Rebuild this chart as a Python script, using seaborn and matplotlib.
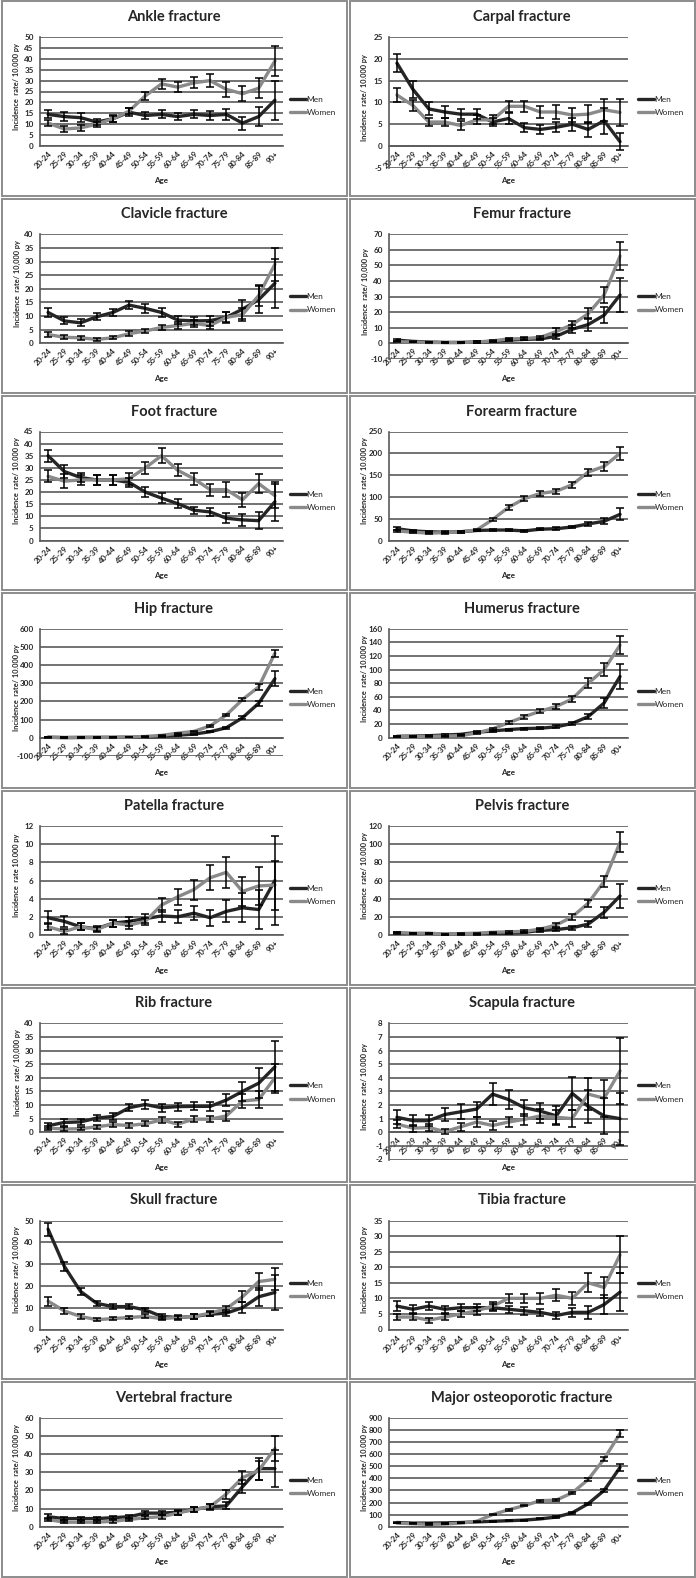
import numpy as np
import pandas as pd
import seaborn as sns
import matplotlib.pyplot as plt
from matplotlib.lines import Line2D
from matplotlib.patches import Rectangle

ages = ["20-24", "25-29", "30-34", "35-39", "40-44", "45-49", "50-54", "55-59",
        "60-64", "65-69", "70-74", "75-79", "80-84", "85-89", "90+"]

ankle_men = [14.5, 13.5, 13, 11, 12.5, 15.5, 14, 14.5, 13.5, 14.5, 14, 14.5, 10.5, 13.5, 21]
ankle_men_err = [1.8, 2, 2, 1.5, 1.5, 1.8, 1.8, 1.8, 1.8, 1.8, 2, 2.5, 3, 4.5, 9]
ankle_women = [10.5, 7.8, 8.3, 10, 12.5, 16, 23, 28.5, 27, 29, 30, 26, 24, 26.5, 39]
ankle_women_err = [1.3, 1.2, 1.2, 1.2, 1.3, 1.5, 2, 2.3, 2.3, 2.5, 3, 3.5, 3.5, 4.5, 7]

carpal_men = [19, 13, 8.5, 7.8, 7.3, 7.3, 5.5, 6.3, 4.2, 3.8, 4.3, 5, 3.8, 5.8, 1]
carpal_men_err = [2, 2, 1.5, 1.3, 1.2, 1.2, 1, 1.2, 1, 1, 1.2, 1.5, 1.8, 3, 2]
carpal_women = [11.7, 9.3, 5.5, 5.5, 4.7, 6, 6, 9.1, 9.1, 7.8, 7.8, 7.1, 7.3, 8.3, 7.7]
carpal_women_err = [1.5, 1.3, 1, 1, 1, 1, 1, 1.3, 1.2, 1.3, 1.5, 1.7, 2, 2.5, 3]

clavicle_men = [11.3, 8.2, 7.5, 9.7, 11.3, 14, 12.8, 11.3, 8.5, 8.2, 8.3, 9.5, 12.5, 16, 22]
clavicle_men_err = [1.5, 1.3, 1.3, 1.3, 1.3, 1.5, 1.6, 1.6, 1.5, 1.5, 1.8, 2, 3.5, 5, 9]
clavicle_women = [3.2, 2.2, 2, 1.4, 2, 3.5, 4.5, 5.8, 6.5, 7.3, 6.5, 9.5, 10.5, 17.5, 29]
clavicle_women_err = [0.8, 0.7, 0.7, 0.5, 0.6, 0.9, 0.8, 1, 1.2, 1.3, 1.3, 1.8, 2.5, 4, 6]

femur_men = [2, 1.2, 0.8, 0.5, 0.5, 0.8, 1.2, 2, 2.5, 2.8, 4.5, 9, 12, 18, 31]
femur_men_err = [0.6, 0.4, 0.3, 0.3, 0.3, 0.4, 0.5, 0.6, 0.7, 0.8, 1.5, 2.5, 4, 5, 11]
femur_women = [1, 0.8, 0.5, 0.5, 0.5, 0.8, 1.5, 2.8, 3, 3.8, 7.5, 12, 19, 31, 56]
femur_women_err = [0.4, 0.3, 0.3, 0.3, 0.3, 0.4, 0.5, 0.7, 0.8, 1, 2, 2, 3.5, 5, 9]

foot_men = [35, 28.5, 26, 25, 25, 24, 20, 17.5, 15.2, 12.5, 11.8, 9.2, 8.5, 8.2, 16]
foot_men_err = [2.5, 2.5, 2, 2, 2, 2, 2, 2, 1.8, 1.5, 1.5, 2, 2.5, 3.5, 8]
foot_women = [26.5, 24.5, 25, 25, 25, 25.5, 30, 35, 29, 25.5, 21, 21, 16.8, 23.5, 18.5]
foot_women_err = [2.5, 3, 2, 2, 2, 2.5, 2.5, 3, 2.5, 2.5, 2.5, 3, 3, 4, 5]

forearm_men = [27, 22, 20, 19, 20, 23, 24, 24, 22, 26, 27, 31, 38, 44, 60]
forearm_men_err = [3, 2, 2, 2, 2, 2, 2, 2, 2, 3, 3, 3, 5, 7, 14]
forearm_women = [22, 19, 17, 18, 20, 24, 48, 76, 96, 108, 113, 128, 157, 170, 200]
forearm_women_err = [2, 2, 2, 2, 2, 3, 4, 5, 5, 6, 6, 7, 8, 10, 15]

hip_men = [3, 1, 2, 2, 2, 3, 4, 8, 14, 20, 33, 55, 110, 190, 325]
hip_men_err = [1, 0.5, 0.8, 0.8, 0.8, 1, 1, 2, 2, 3, 4, 6, 8, 15, 40]
hip_women = [2, 1, 1, 2, 3, 4, 7, 13, 25, 35, 65, 125, 210, 280, 465]
hip_women_err = [1, 0.5, 0.5, 0.8, 1, 1, 2, 2, 3, 4, 5, 7, 8, 15, 20]

humerus_men = [2, 2.5, 3, 4, 5, 8, 10, 12, 13.5, 14, 16, 21, 31, 51, 90]
humerus_men_err = [0.8, 0.8, 0.8, 1, 1, 1.2, 1.5, 1.5, 1.5, 1.8, 2, 2.5, 4, 8, 18]
humerus_women = [2, 2, 2, 2.5, 3, 7, 13, 22, 31, 39, 46, 57, 80, 100, 136]
humerus_women_err = [0.8, 0.8, 0.8, 0.8, 1, 1.2, 1.5, 2, 3, 3, 4, 5, 7, 9, 13]

patella_men = [1.9, 1.5, 0.9, 0.7, 1.3, 1.5, 1.8, 2.1, 2.0, 2.4, 1.9, 2.6, 3.0, 2.8, 6.0]
patella_men_err = [0.7, 0.6, 0.4, 0.3, 0.4, 0.5, 0.5, 0.7, 0.7, 0.8, 0.9, 1.2, 1.6, 2.1, 4.9]
patella_women = [0.9, 0.4, 0.9, 0.6, 1.3, 1.1, 1.5, 3.3, 4.2, 5.0, 6.3, 6.9, 4.8, 5.4, 5.5]
patella_women_err = [0.4, 0.3, 0.4, 0.3, 0.4, 0.4, 0.4, 0.8, 0.9, 1.1, 1.4, 1.7, 1.6, 2.1, 2.7]

pelvis_men = [2, 1.5, 1.5, 1, 1, 1, 1.5, 2, 3, 5, 6, 8, 12, 25, 43]
pelvis_men_err = [0.8, 0.6, 0.6, 0.5, 0.5, 0.5, 0.6, 0.7, 0.8, 1.5, 1.5, 2, 3, 6, 13]
pelvis_women = [2.5, 2, 2, 1, 1.5, 2, 3, 3.5, 4, 6.5, 11, 20, 35, 59, 102]
pelvis_women_err = [0.8, 0.6, 0.6, 0.5, 0.5, 0.6, 0.7, 0.8, 1, 1.5, 2, 3, 4, 6, 11]

rib_men = [2.4, 3.6, 3.8, 5.2, 5.8, 9, 10.2, 9, 9.4, 9.5, 9.5, 11.8, 15, 18, 24]
rib_men_err = [1, 1.2, 1.2, 1.2, 1.2, 1.3, 1.6, 1.5, 1.5, 1.5, 1.7, 2.3, 3.5, 5.5, 9.5]
rib_women = [1.5, 1.2, 1.3, 2, 2.8, 2.5, 3.1, 4.5, 3, 4.8, 4.8, 6, 11.5, 12, 20]
rib_women_err = [0.7, 0.6, 0.6, 0.7, 0.8, 0.8, 0.9, 1, 0.9, 1.1, 1.2, 1.8, 2.5, 3, 5]

scapula_men = [1.1, 0.85, 0.85, 1.3, 1.5, 1.7, 2.8, 2.4, 1.8, 1.55, 1.2, 2.85, 1.9, 1.2, 1.0]
scapula_men_err = [0.5, 0.4, 0.4, 0.45, 0.55, 0.55, 0.8, 0.7, 0.6, 0.6, 0.7, 1.2, 1.2, 1.3, 1.9]
scapula_women = [0.6, 0.3, 0.35, 0.05, 0.4, 0.75, 0.5, 0.75, 0.95, 1.2, 1.1, 1.0, 2.8, 2.5, 4.5]
scapula_women_err = [0.3, 0.25, 0.25, 0.2, 0.3, 0.35, 0.3, 0.35, 0.4, 0.5, 0.5, 0.6, 1.2, 1.35, 2.4]

skull_men = [46, 29, 17.5, 12, 10.5, 10.5, 9, 6, 5.5, 6, 7, 7.5, 10, 15, 17]
skull_men_err = [3, 2, 1.5, 1.2, 1, 1, 1, 1, 1, 1, 1, 1.5, 2.5, 4, 8]
skull_women = [13, 8.5, 6, 4.5, 5, 5.5, 6, 5, 5.5, 6, 7.5, 9.5, 15, 22, 23]
skull_women_err = [2, 1.3, 1, 0.8, 0.8, 0.8, 0.9, 0.8, 0.9, 1, 1.2, 1.5, 2.5, 4, 5]

tibia_men = [7.5, 6.5, 7.5, 6.5, 7, 7, 7, 6.5, 6, 5.5, 4.5, 5.5, 5.5, 8, 12]
tibia_men_err = [1.5, 1.3, 1.3, 1.2, 1.2, 1.2, 1.2, 1.2, 1.2, 1.2, 1.2, 1.5, 2, 3, 6]
tibia_women = [4, 4, 3, 4, 5, 6, 7.5, 10, 10, 10, 11, 10, 15, 13.5, 24]
tibia_women_err = [1, 1, 0.8, 1, 1, 1.2, 1.3, 1.5, 1.5, 1.7, 2, 2, 3, 3.5, 6]

vertebral_men = [5.5, 4.5, 4.5, 4.5, 5, 5.5, 7.5, 7.5, 8, 9.5, 11, 11.5, 22, 32, 32]
vertebral_men_err = [1.5, 1, 1, 1, 1, 1, 1.2, 1.2, 1.3, 1.5, 1.5, 2, 3.5, 6, 10]
vertebral_women = [4, 2.5, 2.5, 2.5, 3, 4, 5, 5.5, 7.5, 9.5, 11, 18, 27, 31, 43]
vertebral_women_err = [1, 0.7, 0.7, 0.7, 0.8, 0.9, 1, 1, 1.2, 1.5, 1.7, 2.5, 3.5, 5, 7]

major_men = [35, 30, 30, 32, 35, 40, 45, 50, 55, 65, 80, 115, 190, 300, 490]
major_men_err = [3, 3, 3, 3, 3, 3, 3, 3, 4, 4, 5, 6, 10, 15, 30]
major_women = [30, 25, 20, 22, 30, 45, 100, 140, 175, 215, 220, 280, 390, 560, 770]
major_women_err = [3, 3, 3, 3, 3, 4, 5, 6, 7, 8, 9, 10, 12, 20, 30]

YL_DOT = "Incidence  rate/ 10.000 py"
YL_COMMA = "Incidence  rate/ 10,000 py"

# title, men, men err, women, women err, (ymin, ymax, step), ylabel
panels = [
    ("Ankle fracture", ankle_men, ankle_men_err, ankle_women, ankle_women_err, (0, 50, 5), YL_DOT),
    ("Carpal fracture", carpal_men, carpal_men_err, carpal_women, carpal_women_err, (-5, 25, 5), YL_DOT),
    ("Clavicle fracture", clavicle_men, clavicle_men_err, clavicle_women, clavicle_women_err, (0, 40, 5), YL_COMMA),
    ("Femur fracture", femur_men, femur_men_err, femur_women, femur_women_err, (-10, 70, 10), YL_COMMA),
    ("Foot fracture", foot_men, foot_men_err, foot_women, foot_women_err, (0, 45, 5), YL_DOT),
    ("Forearm fracture", forearm_men, forearm_men_err, forearm_women, forearm_women_err, (0, 250, 50), YL_DOT),
    ("Hip fracture", hip_men, hip_men_err, hip_women, hip_women_err, (-100, 600, 100), YL_DOT),
    ("Humerus fracture", humerus_men, humerus_men_err, humerus_women, humerus_women_err, (0, 160, 20), YL_DOT),
    ("Patella fracture", patella_men, patella_men_err, patella_women, patella_women_err, (0, 12, 2), "Incidence  rate 10.000 py"),
    ("Pelvis fracture", pelvis_men, pelvis_men_err, pelvis_women, pelvis_women_err, (0, 120, 20), YL_DOT),
    ("Rib fracture", rib_men, rib_men_err, rib_women, rib_women_err, (0, 40, 5), YL_COMMA),
    ("Scapula fracture", scapula_men, scapula_men_err, scapula_women, scapula_women_err, (-2, 8, 1), YL_DOT),
    ("Skull fracture", skull_men, skull_men_err, skull_women, skull_women_err, (0, 50, 10), YL_DOT),
    ("Tibia fracture", tibia_men, tibia_men_err, tibia_women, tibia_women_err, (0, 35, 5), YL_DOT),
    ("Vertebral fracture", vertebral_men, vertebral_men_err, vertebral_women, vertebral_women_err, (0, 60, 10), YL_DOT),
    ("Major osteoporotic fracture", major_men, major_men_err, major_women, major_women_err, (0, 900, 100), YL_DOT),
]

MEN_C = "#262626"
WOMEN_C = "#8a8a8a"
GRID_C = "#5a5a5a"
BORDER_C = "#8c8c8c"

sns.set_style("white")
plt.rcParams["font.family"] = ["Lato", "DejaVu Sans"]

W, H = 696, 1578
fig = plt.figure(figsize=(W / 100, H / 100), dpi=100)
PH = H / 8.0
x = np.arange(len(ages))

for i, (title, men, men_err, women, women_err, (ymin, ymax, step), ylab) in enumerate(panels):
    r, c = divmod(i, 2)
    px0 = c * 348
    py0 = r * PH

    # panel frame
    fig.patches.append(Rectangle(((px0 + 1.5) / W, 1 - (py0 + PH - 1.5) / H),
                                 (348 - 3) / W, (PH - 3) / H,
                                 transform=fig.transFigure, fill=False,
                                 edgecolor=BORDER_C, lw=1.4))

    left = px0 + (40 if c == 0 else 41)
    right = px0 + (283 if c == 0 else 280)
    top = py0 + 37
    zero = py0 + 146
    bottom = zero + (zero - top) * (-ymin) / ymax
    ax = fig.add_axes([left / W, 1 - bottom / H, (right - left) / W, (bottom - top) / H])

    df = pd.DataFrame({
        "age": np.tile(x, 2),
        "rate": list(men) + list(women),
        "sex": ["Men"] * len(ages) + ["Women"] * len(ages),
    })
    sns.lineplot(data=df, x="age", y="rate", hue="sex",
                 palette={"Men": MEN_C, "Women": WOMEN_C},
                 linewidth=2.4, legend=False, errorbar=None, sort=False, ax=ax, zorder=3)
    ax.errorbar(x, men, yerr=men_err, fmt="none", ecolor="black",
                elinewidth=1.1, capsize=2.6, capthick=1.1, zorder=4)
    ax.errorbar(x, women, yerr=women_err, fmt="none", ecolor="black",
                elinewidth=1.1, capsize=2.6, capthick=1.1, zorder=4)

    ax.set_xlim(-0.5, len(ages) - 0.5)
    ax.set_ylim(ymin, ymax)
    ax.set_yticks(np.arange(ymin, ymax + step / 2, step))
    ax.yaxis.grid(True, color=GRID_C, lw=1.2)
    ax.xaxis.grid(False)
    ax.set_axisbelow(True)
    for s in ["top", "right"]:
        ax.spines[s].set_visible(False)
    ax.spines["left"].set_color(GRID_C)
    ax.spines["left"].set_linewidth(1.2)
    ax.spines["bottom"].set_position(("data", 0))
    ax.spines["bottom"].set_color(GRID_C)
    ax.spines["bottom"].set_linewidth(1.2)

    ax.set_xticks(x)
    ax.set_xticklabels(ages, rotation=45, ha="right", va="top",
                       rotation_mode="anchor", fontsize=5.6, fontweight="bold")
    ax.set_yticklabels([f"{v:g}" for v in ax.get_yticks()], fontsize=5.8, fontweight="bold")
    ax.tick_params(axis="x", length=0, pad=3)
    ax.tick_params(axis="y", length=2.5, width=0.8, color=GRID_C, pad=2, direction="out")
    ax.set_xlabel("")
    ax.set_ylabel("")

    fig.text((px0 + 174) / W, 1 - (py0 + 17) / H, title, ha="center", va="center",
             fontsize=10.5, fontweight="bold")
    fig.text((px0 + 17) / W, 1 - ((top + bottom) / 2 - 5) / H, ylab, rotation=90,
             ha="center", va="center", fontsize=5.3, fontweight="bold")
    fig.text(((left + right) / 2) / W, 1 - (py0 + 181) / H, "Age", ha="center",
             va="center", fontsize=5.8, fontweight="bold")

    handles = [Line2D([0], [0], color=MEN_C, lw=2.4), Line2D([0], [0], color=WOMEN_C, lw=2.4)]
    fig.legend(handles, ["Men", "Women"], loc="upper left",
               bbox_to_anchor=((px0 + 290) / W, 1 - (py0 + 96) / H),
               frameon=False, fontsize=6, handlelength=1.9, handletextpad=0.1,
               labelspacing=0.75, borderpad=0, borderaxespad=0)

fig.savefig("out.png", dpi=100)
